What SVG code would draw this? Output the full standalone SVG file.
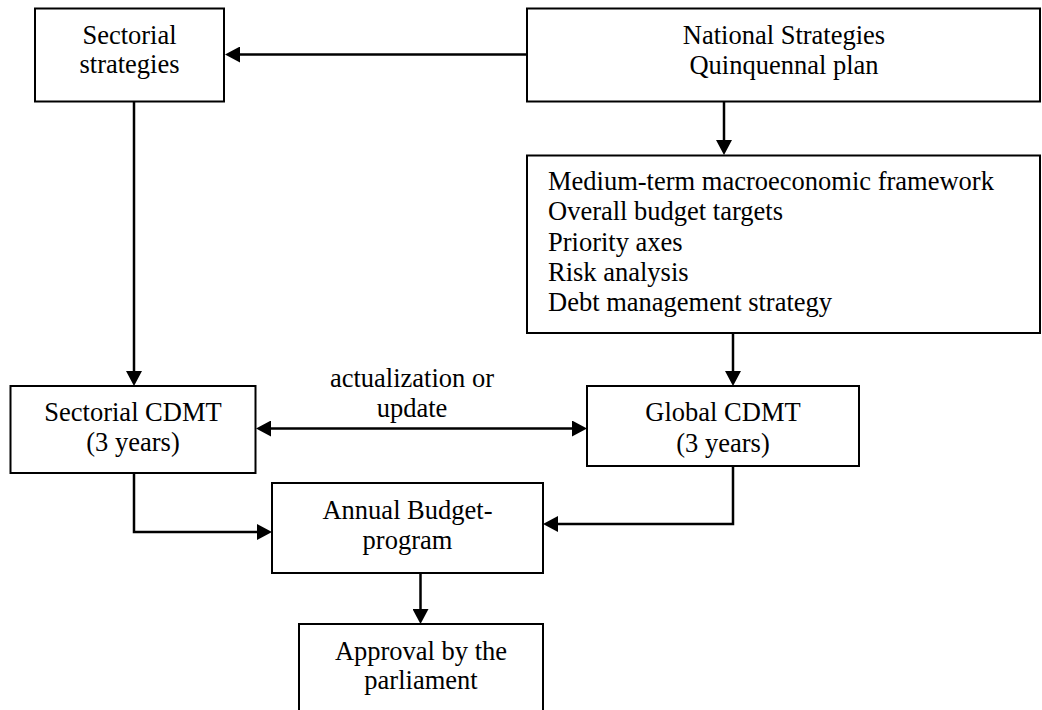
<svg xmlns="http://www.w3.org/2000/svg" width="1042" height="710" viewBox="0 0 1042 710">
<style>
.box{fill:#fff;stroke:#000;stroke-width:2}
.t{font-family:"Liberation Serif","Times New Roman",serif;font-size:26.5px;fill:#000}
.c{text-anchor:middle}
.con{fill:none;stroke:#000;stroke-width:2.5}
</style>
<defs>
<marker id="ah" viewBox="0 0 15 16" refX="10" refY="8" markerWidth="15" markerHeight="16" markerUnits="userSpaceOnUse" orient="auto-start-reverse">
<path d="M0,0 L15,8 L0,16 Z" fill="#000"/>
</marker>
</defs>
<rect width="1042" height="710" fill="#fff"/>
<g id="connectors">
<line class="con" x1="527" y1="54.5" x2="230" y2="54.5" marker-end="url(#ah)"/>
<line class="con" x1="724" y1="102" x2="724" y2="150" marker-end="url(#ah)"/>
<line class="con" x1="733" y1="333" x2="733" y2="381" marker-end="url(#ah)"/>
<line class="con" x1="134" y1="102" x2="134" y2="381" marker-end="url(#ah)"/>
<line class="con" x1="261" y1="428.5" x2="582" y2="428.5" marker-start="url(#ah)" marker-end="url(#ah)"/>
<path class="con" d="M134,473 V532 H267" marker-end="url(#ah)"/>
<path class="con" d="M733,466 V524 H548" marker-end="url(#ah)"/>
<line class="con" x1="420.5" y1="573" x2="420.5" y2="619" marker-end="url(#ah)"/>
</g>
<g id="sectorial-strategies">
<rect class="box" x="35" y="8.5" width="189" height="93"/>
<text class="t c" x="129.5" y="43.5">Sectorial</text>
<text class="t c" x="129.5" y="73">strategies</text>
</g>
<g id="national-strategies">
<rect class="box" x="527" y="8.5" width="513" height="93"/>
<text class="t c" x="784" y="43.5">National Strategies</text>
<text class="t c" x="784" y="73.5">Quinquennal plan</text>
</g>
<g id="macro-framework">
<rect class="box" x="527" y="155.5" width="513" height="177.5"/>
<text class="t" x="548" y="190">Medium-term macroeconomic framework</text>
<text class="t" x="548" y="220">Overall budget targets</text>
<text class="t" x="548" y="251">Priority axes</text>
<text class="t" x="548" y="281">Risk analysis</text>
<text class="t" x="548" y="311">Debt management strategy</text>
</g>
<g id="sectorial-cdmt">
<rect class="box" x="10.5" y="386" width="245" height="87"/>
<text class="t c" x="133" y="421">Sectorial CDMT</text>
<text class="t c" x="133" y="451">(3 years)</text>
</g>
<g id="update-label">
<text class="t c" x="412" y="387">actualization or</text>
<text class="t c" x="412" y="417">update</text>
</g>
<g id="global-cdmt">
<rect class="box" x="587" y="386" width="272" height="80"/>
<text class="t c" x="723" y="421">Global CDMT</text>
<text class="t c" x="723" y="452">(3 years)</text>
</g>
<g id="annual-budget">
<rect class="box" x="272" y="483" width="271" height="90"/>
<text class="t c" x="407.5" y="519">Annual Budget-</text>
<text class="t c" x="407.5" y="549">program</text>
</g>
<g id="approval">
<rect class="box" x="299" y="624" width="244" height="100"/>
<text class="t c" x="421" y="660">Approval by the</text>
<text class="t c" x="421" y="689">parliament</text>
</g>
</svg>
